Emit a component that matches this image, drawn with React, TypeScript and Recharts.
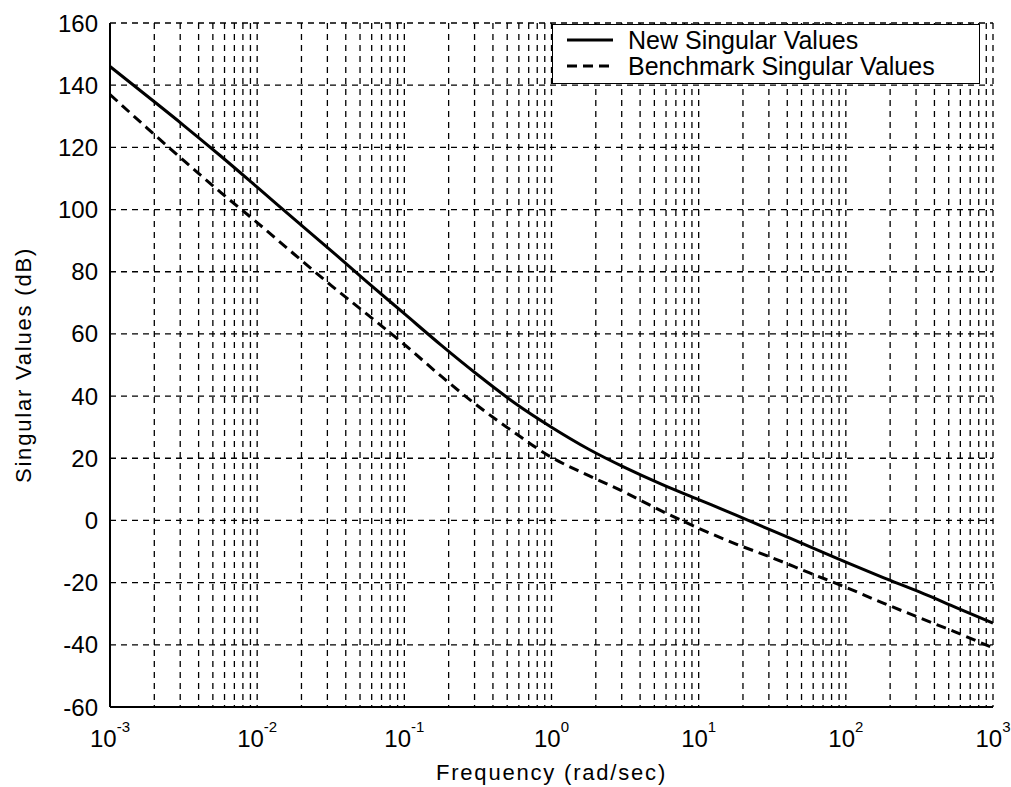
import { LineChart, Line, XAxis, YAxis, CartesianGrid, Legend } from 'recharts';

// frequency points as powers of ten (rad/sec)
const logFreq = [
  -3, -2.75, -2.5, -2.25, -2, -1.75, -1.5, -1.25, -1, -0.75, -0.5, -0.25, 0,
  0.25, 0.5, 0.75, 1, 1.25, 1.5, 1.75, 2, 2.25, 2.5, 2.75, 3,
];
const newSingular = [
  146, 136.6, 127.1, 117.3, 107.2, 97, 86.9, 76.6, 66.5, 56.4, 46.8, 37.8, 30,
  23, 17, 11.6, 6.7, 1.8, -3.3, -8.3, -13.4, -18.3, -23, -28, -33,
];
const benchSingular = [
  137, 126.3, 115.8, 105.6, 95.8, 85.7, 75.7, 66.2, 56.6, 46.4, 36.8, 28.2, 20.3,
  14.5, 9, 3, -2.5, -7.5, -12, -16.8, -21.5, -26.5, -31.3, -36, -41,
];
const yTicks = [-60, -40, -20, 0, 20, 40, 60, 80, 100, 120, 140, 160];
const decades = [-3, -2, -1, 0, 1, 2];
const gridMult = [1, 2, 3, 4, 5, 6, 7, 8, 9];
const legendNames = ['New Singular Values', 'Benchmark Singular Values'];

const data = logFreq.map((e, i) => ({
  f: 10 ** e,
  newSv: newSingular[i],
  bench: benchSingular[i],
}));
const xTicks = decades.flatMap(d => gridMult.map(m => m * 10 ** d)).concat([1000]);

const FONT = '"Liberation Sans", Arial, sans-serif';

function FreqTick({ x, y, payload }: any) {
  const lg = Math.log10(payload.value);
  const e = Math.round(lg);
  if (Math.abs(lg - e) > 1e-6) return <g />;
  return (
    <text x={x} y={y + 40} textAnchor="middle" fontSize={24} fill="#000" fontFamily={FONT}>
      <tspan>10</tspan>
      <tspan dy={-15} fontSize={15}>{e}</tspan>
    </text>
  );
}

function LegendBox() {
  return (
    <div
      style={{
        border: '1.5px solid #000',
        background: '#fff',
        width: 428,
        padding: '2px 0 4px',
        boxSizing: 'border-box',
        fontFamily: FONT,
      }}
    >
      {legendNames.map((name, i) => (
        <div key={name} style={{ display: 'flex', alignItems: 'center', height: 26 }}>
          <svg width={75} height={26}>
            <line
              x1={14}
              x2={60}
              y1={13}
              y2={13}
              stroke="#000"
              strokeWidth={3}
              strokeDasharray={i === 1 ? '10 6' : undefined}
            />
          </svg>
          <span style={{ fontSize: 25, lineHeight: '26px', color: '#000', whiteSpace: 'nowrap' }}>{name}</span>
        </div>
      ))}
    </div>
  );
}

export default function App() {
  return (
    <div style={{ position: 'absolute', left: 0, top: 0, width: 1011, height: 787, background: '#fff', fontFamily: FONT }}>
      <LineChart width={1011} height={787} data={data} margin={{ top: 23, right: 18, bottom: 0, left: 0 }}>
        <CartesianGrid stroke="#000" strokeWidth={1.3} strokeDasharray="6 5" />
        <XAxis
          dataKey="f"
          type="number"
          scale="log"
          domain={[0.001, 1000]}
          ticks={xTicks}
          interval={0}
          allowDataOverflow
          height={80}
          tickSize={0}
          tickMargin={0}
          tick={(p: any) => <FreqTick {...p} />}
          axisLine={{ stroke: '#000', strokeWidth: 2 }}
          label={{
            value: 'Frequency (rad/sec)',
            position: 'insideBottom',
            offset: 7,
            fill: '#000',
            fontSize: 22,
            style: { letterSpacing: 1.8 },
          }}
        />
        <XAxis
          xAxisId="top"
          orientation="top"
          type="number"
          domain={[0, 1]}
          height={0}
          tick={false}
          tickLine={false}
          axisLine={{ stroke: '#000', strokeWidth: 2 }}
        />
        <YAxis
          type="number"
          domain={[-60, 160]}
          ticks={yTicks}
          interval={0}
          width={110}
          tickSize={0}
          tickMargin={12}
          tick={{ fill: '#000', fontSize: 24 }}
          axisLine={{ stroke: '#000', strokeWidth: 2 }}
          label={{
            value: 'Singular Values (dB)',
            angle: -90,
            position: 'insideLeft',
            offset: 23,
            fill: '#000',
            fontSize: 22,
            style: { textAnchor: 'middle', letterSpacing: 1.8 },
          }}
        />
        <YAxis
          yAxisId="right"
          orientation="right"
          type="number"
          domain={[0, 1]}
          width={0}
          tick={false}
          tickLine={false}
          axisLine={{ stroke: '#000', strokeWidth: 2 }}
        />
        <Legend
          layout="horizontal"
          verticalAlign="middle"
          align="center"
          wrapperStyle={{ top: 24, left: 552, width: 428 }}
          content={() => <LegendBox />}
        />
        <Line
          dataKey="newSv"
          name={legendNames[0]}
          type="monotone"
          stroke="#000"
          strokeWidth={3}
          dot={false}
          isAnimationActive={false}
        />
        <Line
          dataKey="bench"
          name={legendNames[1]}
          type="monotone"
          stroke="#000"
          strokeWidth={3}
          strokeDasharray="10 6"
          dot={false}
          isAnimationActive={false}
        />
      </LineChart>
    </div>
  );
}
